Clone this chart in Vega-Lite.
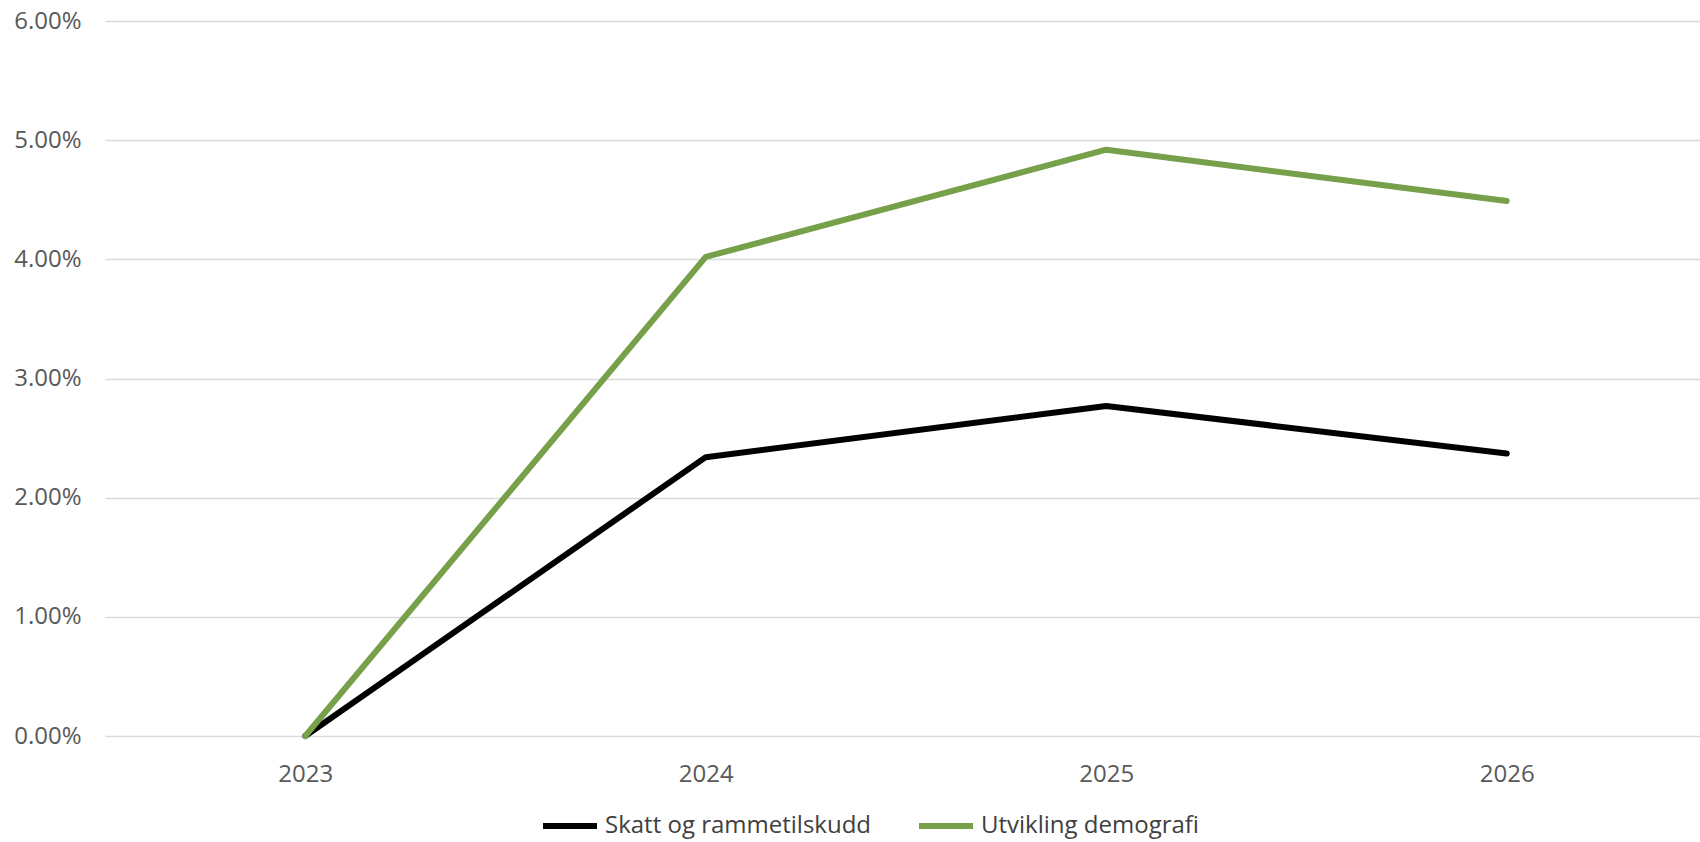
{
  "$schema": "https://vega.github.io/schema/vega-lite/v6.json",
  "autosize": {"type": "none"},
  "padding": {"left": 105, "top": 21, "right": 0, "bottom": 106},
  "width": 1602,
  "height": 715,
  "background": "white",
  "config": {
    "view": {"stroke": null},
    "font": "Open Sans",
    "axis": {"labelFont": "Open Sans", "labelColor": "#595959", "labelFontSize": 24}
  },
  "data": {
    "values": [
      {"year": "2023", "series": "Skatt og rammetilskudd", "value": 0},
      {"year": "2024", "series": "Skatt og rammetilskudd", "value": 0.0234},
      {"year": "2025", "series": "Skatt og rammetilskudd", "value": 0.0277},
      {"year": "2026", "series": "Skatt og rammetilskudd", "value": 0.0237},
      {"year": "2023", "series": "Utvikling demografi", "value": 0},
      {"year": "2024", "series": "Utvikling demografi", "value": 0.0402},
      {"year": "2025", "series": "Utvikling demografi", "value": 0.0492},
      {"year": "2026", "series": "Utvikling demografi", "value": 0.0449}
    ]
  },
  "mark": {"type": "line", "strokeWidth": 6, "strokeCap": "round", "strokeJoin": "round"},
  "encoding": {
    "x": {
      "field": "year",
      "type": "ordinal",
      "scale": {"type": "point", "padding": 0.5},
      "axis": {"title": null, "labelAngle": 0, "ticks": false, "domain": false, "labelPadding": 26, "grid": false}
    },
    "y": {
      "field": "value",
      "type": "quantitative",
      "scale": {"domain": [0, 0.06], "nice": false},
      "axis": {
        "title": null,
        "format": ".2%",
        "values": [0, 0.01, 0.02, 0.03, 0.04, 0.05, 0.06],
        "ticks": false,
        "domain": false,
        "labelPadding": 24,
        "grid": true,
        "gridColor": "#d9d9d9",
        "gridWidth": 1.6
      }
    },
    "color": {
      "field": "series",
      "type": "nominal",
      "scale": {"domain": ["Skatt og rammetilskudd", "Utvikling demografi"], "range": ["#000000", "#77A04A"]},
      "legend": {
        "title": null,
        "orient": "none",
        "direction": "horizontal",
        "legendX": 435,
        "legendY": 775,
        "symbolType": "stroke",
        "symbolSize": 2916,
        "symbolStrokeWidth": 6,
        "labelFont": "Open Sans",
        "labelFontSize": 24,
        "labelColor": "#404040",
        "labelOffset": 5,
        "columnPadding": 35,
        "labelLimit": 500
      }
    }
  }
}
